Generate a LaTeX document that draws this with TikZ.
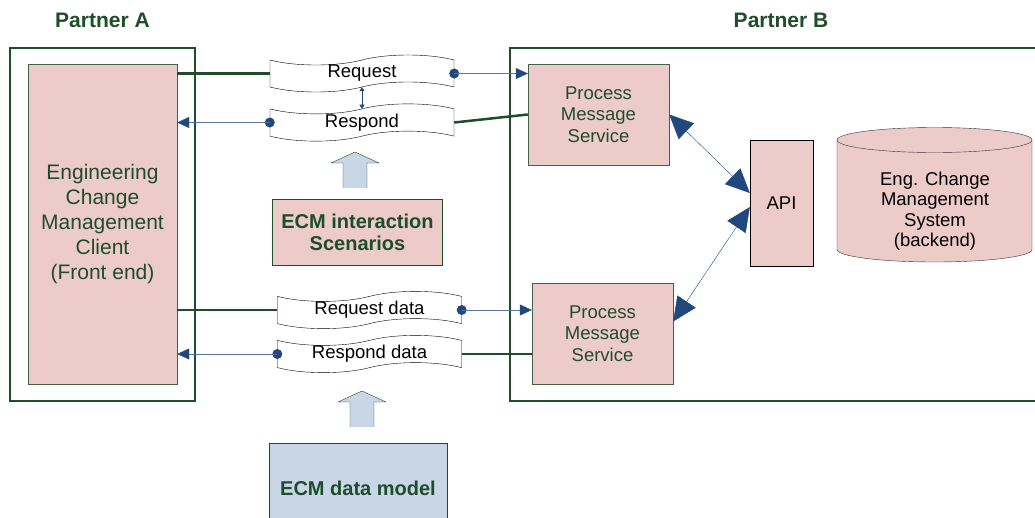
\documentclass[tikz,border=0pt]{standalone}
\usepackage{fontspec}
\setmainfont{Liberation Sans}
\usetikzlibrary{shapes.symbols, arrows.meta}

\definecolor{ecmgreen}{RGB}{30,77,43}
\definecolor{ecmpink}{RGB}{236,203,201}
\definecolor{ecmblue}{RGB}{31,73,125}
\definecolor{ecmlight}{RGB}{201,214,230}

\newcommand{\msgfont}{\fontsize{18.5}{21.5}\selectfont}
\newcommand{\dbfont}{\fontsize{18.5}{20.5}\selectfont}
\newcommand{\clientfont}{\fontsize{21}{25}\selectfont}
\newcommand{\titlefont}{\fontsize{21}{24}\selectfont\bfseries}
\newcommand{\boxfont}{\fontsize{20}{22}\selectfont\bfseries}

\tikzset{
  uparrow/.pic={
    \fill[ecmlight] (-12,0) -- (-12,-25) -- (-24,-25) -- (0,-36) -- (24,-25) -- (12,-25) -- (12,0) -- cycle;
    \draw[ecmgreen, thin] (-12,0) -- (-12,-25) -- (-24,-25) -- (0,-36) -- (24,-25) -- (12,-25) -- (12,0);
  }
}

\begin{document}
\begin{tikzpicture}[x=1pt, y=-1pt,
  frame/.style={draw=ecmgreen, line width=2.5pt},
  pinkbox/.style={draw=ecmgreen!60!gray, fill=ecmpink, thin, inner sep=0pt, align=center},
  msg/.style={tape, tape bend height=10pt, draw=black, fill=white, thin, minimum width=184pt, minimum height=37pt, inner sep=0pt, font=\msgfont},
  link/.style={draw=ecmgreen, line width=2.5pt},
  flow/.style={draw=ecmblue!75, thin, -{Triangle[length=12pt, width=11pt, color=ecmblue]}},
  apilink/.style={draw=ecmblue, thin, {Triangle[length=24pt, width=22pt]}-{Triangle[length=24pt, width=22pt]}},
]
  \useasboundingbox (0,0) rectangle (1035,517);

  % -- Partner frames --
  \node[font=\titlefont, text=ecmgreen] (titleA) at (102.5,20) {Partner A};
  \node[font=\titlefont, text=ecmgreen] (titleB) at (781,20) {Partner B};
  \draw[frame] (10,48) rectangle (195,401);
  \draw[frame] (510,48) rectangle (1045,401);

  % -- Client (Partner A) --
  \node[pinkbox, minimum width=149pt, minimum height=320pt, font=\clientfont, text=ecmgreen] (client) at (102.5,224)
    {Engineering\\Change\\Management\\Client\\(Front end)};

  % -- Messages --
  \node[msg] (req) at (362,73.5) {Request};
  \node[msg] (resp) at (362,122.5) {Respond};
  \node[msg] (qdata) at (369.5,310) {Request data};
  \node[msg] (rdata) at (369.5,354) {Respond data};

  % -- Partner B services --
  \node[pinkbox, minimum width=141pt, minimum height=101pt, font=\msgfont, text=ecmgreen] (pms1) at (598.5,114.5)
    {Process\\Message\\Service};
  \node[pinkbox, minimum width=141pt, minimum height=101pt, font=\msgfont, text=ecmgreen] (pms2) at (602.5,333.5)
    {Process\\Message\\Service};
  \node[pinkbox, draw=black, minimum width=63pt, minimum height=126pt, font=\msgfont] (api) at (781.5,203) {API};

  % -- Backend store --
  \filldraw[fill=ecmpink, draw=black!80, thin] (837,140) -- (837,249.5)
    arc[start angle=180, end angle=0, x radius=97.5, y radius=12.5] -- (1032,140)
    arc[start angle=0, end angle=-180, x radius=97.5, y radius=12.5] -- cycle;
  \draw[black!80, thin] (837,140) arc[start angle=180, end angle=0, x radius=97.5, y radius=12.5];
  \node[align=center, font=\dbfont] (ecms) at (935,211) {Eng. Change\\Management\\System\\(backend)};

  % -- Scenario and data model --
  \node[pinkbox, draw=ecmgreen, minimum width=170pt, minimum height=66pt, font=\boxfont, text=ecmgreen] (scen) at (357.5,232)
    {ECM interaction\\Scenarios};
  \node[pinkbox, draw=ecmgreen, fill=ecmlight, minimum width=178pt, minimum height=90pt, font=\boxfont, text=ecmgreen] (model) at (358,488)
    {ECM data model};
  \pic at (355,188) {uparrow};
  \pic at (362,427) {uparrow};

  % -- Request / respond links --
  \draw[link] (client.east |- req.west) -- (req.west);
  \fill[ecmblue] (req.east) circle (5pt);
  \draw[flow] (req.east) -- (pms1.west |- req.east);
  \draw[link] (pms1.west) -- (resp.east);
  \fill[ecmblue] (resp.west) circle (5pt);
  \draw[flow] (resp.west) -- (client.east |- resp.west);
  \draw[ecmblue, {Triangle[length=4pt, width=5pt]}-{Triangle[length=4pt, width=5pt]}] (req.south) -- (resp.north);

  % -- Data links --
  \draw[link] (client.east |- qdata.west) -- (qdata.west);
  \fill[ecmblue] (qdata.east) circle (5pt);
  \draw[flow] (qdata.east) -- (pms2.west |- qdata.east);
  \draw[link] (rdata.east) -- (pms2.west |- rdata.east);
  \fill[ecmblue] (rdata.west) circle (5pt);
  \draw[flow] (rdata.west) -- (client.east |- rdata.west);

  % -- API links --
  \draw[apilink] (pms1.east) -- ([yshift=10pt]api.west);
  \draw[apilink] ([yshift=12pt]pms2.east) -- ([yshift=-4pt]api.west);

\end{tikzpicture}
\end{document}
